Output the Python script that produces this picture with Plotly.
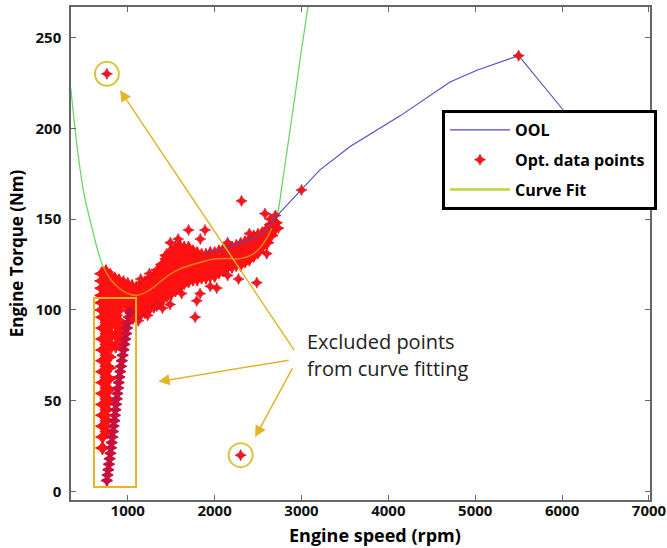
import plotly.graph_objects as go

# ---------------- data ----------------
# Optimal operating line (OOL)
ool_speed = [1880, 2100, 2370, 2550, 2700, 3000, 3210, 3560, 4140, 4710, 5020, 5500, 5980, 6500]
ool_torque = [131.5, 133.5, 138, 142, 151, 166, 177, 190, 207, 225.5, 232, 240, 212, 180]

# Polynomial curve fit
fit_speed = [345, 400, 450, 500, 566, 620, 681, 720, 800, 900, 1000, 1100, 1200, 1300, 1400,
             1500, 1600, 1750, 1900, 2000, 2150, 2250, 2350, 2450, 2530, 2600, 2660, 2720,
             2780, 2850, 2920, 2990, 3060, 3100]
fit_torque = [222, 197, 178, 163, 149.5, 139, 128.5, 123.5, 117, 112, 109, 108, 109.5, 112.5, 116.5,
              120, 122.5, 125, 127, 128, 128.3, 128, 128.8, 131, 134.5, 139.5, 145, 152,
              170, 193, 216, 240, 262, 275]
fit_data_range = (720, 2660)   # part of the fit lying inside the data cloud

# Optimal data points: dense cloud, listed column by column (speed, torques)
cloud_rows = [
    (700, [100, 104, 108, 112, 116, 120]),
    (750, [102, 106, 110, 114, 118, 121]),
    (800, [100, 104, 108, 112, 116, 119]),
    (850, [102, 106, 110, 114, 117]),
    (900, [100, 104, 108, 112, 116]),
    (950, [108, 112, 115]),
    (1000, [102, 106, 110, 114]),
    (1050, [98, 102, 106, 110, 113]),
    (1100, [96, 100, 104, 108, 112]),
    (1150, [98, 102, 106, 110, 114]),
    (1200, [99, 103, 107, 111, 115]),
    (1250, [101, 105, 109, 113, 117]),
    (1300, [102, 106, 110, 114, 118]),
    (1350, [104, 108, 112, 116, 120, 122]),
    (1400, [106, 110, 114, 118, 122, 125]),
    (1450, [108, 112, 116, 120, 124, 128, 130]),
    (1500, [109, 113, 117, 121, 125, 129, 132]),
    (1550, [111, 115, 119, 123, 127, 131, 134]),
    (1600, [113, 117, 121, 125, 129, 133, 135]),
    (1650, [115, 119, 123, 127, 131, 134]),
    (1700, [116, 120, 124, 128, 132, 134]),
    (1750, [117, 121, 125, 129, 132]),
    (1800, [117, 121, 125, 129, 131]),
    (1850, [118, 122, 126, 130]),
    (1900, [118, 122, 126, 130]),
    (1950, [119, 123, 127, 131]),
    (2000, [119, 123, 127, 131]),
    (2050, [121, 125, 129, 132]),
    (2100, [122, 126, 130, 133]),
    (2150, [124, 128, 132, 134]),
    (2200, [124, 128, 132, 134]),
    (2250, [125, 129, 133, 135]),
    (2300, [125, 129, 133, 136]),
    (2350, [127, 131, 135, 137]),
    (2400, [128, 132, 136, 138]),
    (2450, [130, 134, 138, 140]),
    (2500, [132, 136, 140, 141]),
    (2550, [135, 139, 142]),
    (2600, [137, 141, 144]),
    (2650, [141, 145, 147]),
    (2700, [145, 148]),
]

# low-speed column of points (excluded from fitting)
column_rows = [
    (710, [24, 30, 36, 42, 48, 54, 60, 66, 72, 78, 84, 90, 96]),
    (735, [36, 42, 48, 54, 60, 66, 72, 78, 84, 90, 96]),
    (760, [33, 39, 45, 51, 57, 63, 69, 75, 81, 87, 93, 97]),
    (785, [50, 56, 62, 68, 74, 80, 86, 92, 97]),
    (815, [80, 86, 92, 97]),
    (860, [80, 86, 92, 97]),
    (900, [82, 88, 94]),
    (935, [86, 91]),
]

# dense diagonal band at low speed
band_speed = [760, 768, 776, 784, 792, 800, 808, 815, 822, 830, 837, 845, 852, 859, 866, 874,
              881, 889, 896, 904, 913, 922, 932, 942, 952, 962, 972, 982, 992, 1003, 1014, 1026]
band_torque = [6, 9, 12, 15, 18, 21, 24, 27, 30, 33, 36, 39, 42, 45, 48, 51,
               54, 57, 60, 63, 66, 69, 72, 75, 78, 81, 84, 87, 90, 93, 96, 99]

# scattered single points around the cloud
stray_speed = [2310, 1700, 1890, 1490, 1835, 2580, 2700, 2735, 1250, 1150, 2400, 2150, 1580, 2640,
               1776, 1487, 1795, 1833, 2025, 2275, 2486, 1122, 1334, 1950, 2150, 2600, 1620, 1230,
               1400, 1060]
stray_torque = [160, 144, 144, 137, 139, 153, 152, 145, 120, 117, 142, 137, 139, 150,
                96, 103, 105, 109, 112, 117, 115, 94, 102, 113, 119, 131, 109, 97,
                101, 95]

# points on the OOL and the two circled outliers
ool_pt_speed = [3000, 5500]
ool_pt_torque = [166, 240]
outlier_speed = [760, 2300]
outlier_torque = [230, 20]

x_ticks = [1000, 2000, 3000, 4000, 5000, 6000, 7000]
y_ticks = [0, 50, 100, 150, 200, 250]

# ---------------- build flat point lists ----------------
def expand(rows):
    xs, ys = [], []
    for s, ts in rows:
        for t in ts:
            xs.append(s)
            ys.append(t)
    return xs, ys

cloud_x, cloud_y = expand(cloud_rows)
col_x, col_y = expand(column_rows)

in_x = [s for s in fit_speed if fit_data_range[0] <= s <= fit_data_range[1]]
in_y = [t for s, t in zip(fit_speed, fit_torque) if fit_data_range[0] <= s <= fit_data_range[1]]

RED = "#ff1212"
STAR = "star-diamond"
NB = "\u00a0"

fig = go.Figure()

# green curve fit (underneath)
fig.add_trace(go.Scatter(x=fit_speed, y=fit_torque, mode="lines", line=dict(color="#6ad66a", width=1.3, shape="spline"),
                         showlegend=False, hoverinfo="skip"))
# cloud
fig.add_trace(go.Scatter(x=cloud_x + col_x, y=cloud_y + col_y, mode="markers",
                         marker=dict(symbol=STAR, size=10, color=RED, line=dict(width=1.2, color=RED)),
                         showlegend=False))
fig.add_trace(go.Scatter(x=band_speed, y=band_torque, mode="markers",
                         marker=dict(symbol=STAR, size=8, color="#c8103c", line=dict(width=1.5, color="#c8103c")),
                         showlegend=False))
fig.add_trace(go.Scatter(x=stray_speed, y=stray_torque, mode="markers",
                         marker=dict(symbol=STAR, size=8, color=RED, line=dict(width=0.6, color="#b0103a")),
                         showlegend=False))
# curve fit portion inside the data (orange on top)
fig.add_trace(go.Scatter(x=in_x, y=in_y, mode="lines", line=dict(color="#e27a1e", width=1.6, shape="spline"),
                         showlegend=False, hoverinfo="skip"))
# OOL
fig.add_trace(go.Scatter(x=ool_speed, y=ool_torque, mode="lines", line=dict(color="#4d4dc4", width=1.1),
                         name="<b>OOL</b>", legendgroup="a", legendrank=1))
fig.add_trace(go.Scatter(x=ool_pt_speed + outlier_speed, y=ool_pt_torque + outlier_torque, mode="markers",
                         marker=dict(symbol=STAR, size=8, color=RED, line=dict(width=0.6, color="#a0103a")),
                         name="<b>Opt. data points</b>" + NB, legendgroup="b", legendrank=2))
# legend entry for the fit
fig.add_trace(go.Scatter(x=[None], y=[None], mode="lines", line=dict(color="#b9d63c", width=2.5),
                         name="<b>Curve Fit</b>", legendgroup="c", legendrank=3))

GOLD = "#e2b42a"
# circles around outliers
for s, t in zip(outlier_speed, outlier_torque):
    fig.add_shape(type="circle", xref="x", yref="y", xsizemode="pixel", ysizemode="pixel",
                  xanchor=s, yanchor=t, x0=-12, x1=12, y0=-12, y1=12,
                  line=dict(color="#d9c43e", width=2))
# rectangle around low-speed points
fig.add_shape(type="rect", xref="x", yref="y", x0=612, x1=1096, y0=2.5, y1=106.6,
              line=dict(color="#e8b426", width=2))

# arrows (head point, tail point)
arrows = [((911, 221), (2927, 77)), ((1352, 60.5), (2870, 72.4)), ((2467, 30), (2905, 68.6))]
for (hx, hy), (tx, ty) in arrows:
    fig.add_annotation(x=hx, y=hy, ax=tx, ay=ty, xref="x", yref="y", axref="x", ayref="y",
                       text="", showarrow=True, arrowhead=2, arrowsize=1.5, arrowwidth=1.5,
                       arrowcolor=GOLD, standoff=0)
fig.add_annotation(x=3043, y=82.5, xref="x", yref="y", text="Excluded points", showarrow=False,
                   xanchor="left", yanchor="middle", font=dict(family="Open Sans", size=20, color="#222"))
fig.add_annotation(x=3043, y=67.5, xref="x", yref="y", text="from curve fitting", showarrow=False,
                   xanchor="left", yanchor="middle", font=dict(family="Open Sans", size=20, color="#222"))
# x axis title (placed as in the reference, slightly right of centre)
fig.add_annotation(x=(375 - 71) / 579, y=(500 - 535) / 493, xref="paper", yref="paper",
                   text="Engine speed (rpm)", showarrow=False, xanchor="center", yanchor="middle",
                   font=dict(family="Open Sans", size=18, color="black", weight="bold"))

axis_common = dict(showline=True, linecolor="#666", linewidth=1.5, mirror="ticks", ticks="inside",
                   ticklen=5, tickcolor="#666", showgrid=False, zeroline=False,
                   tickfont=dict(family="Open Sans", size=15, color="#111", weight="bold"))

fig.update_layout(
    width=667, height=548,
    margin=dict(l=71, r=17, t=7, b=48, autoexpand=False),
    paper_bgcolor="white", plot_bgcolor="white",
    xaxis=dict(range=[347, 7012], tickvals=x_ticks, ticklabelstandoff=-4, **axis_common),
    yaxis=dict(range=[-4.7, 266.8], tickvals=y_ticks, ticklabelstandoff=5,
               title=dict(text="Engine Torque (Nm)", standoff=8,
                          font=dict(family="Open Sans", size=17, color="black", weight="bold")),
               **axis_common),
    legend=dict(x=(442 - 71) / 579, y=(500 - 110) / 493, xanchor="left", yanchor="top",
                bordercolor="black", borderwidth=3, bgcolor="white",
                font=dict(family="Open Sans", size=16, color="black"),
                itemwidth=60, tracegroupgap=6, traceorder="grouped"),
    showlegend=True,
)

fig.write_html("out.html")
